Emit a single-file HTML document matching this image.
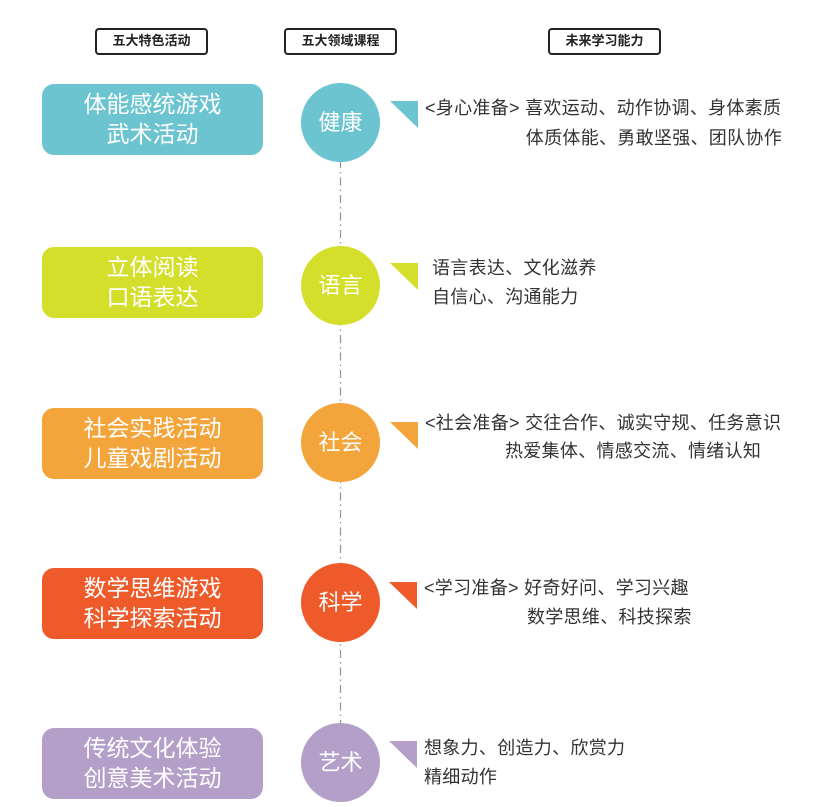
<!DOCTYPE html>
<html><head><meta charset="utf-8"><style>
*{margin:0;padding:0;box-sizing:border-box}
body{width:815px;height:807px;background:#fff;position:relative;overflow:hidden;font-family:"Liberation Sans","Noto Sans CJK SC",sans-serif}
.h{position:absolute;top:28px;height:27px;width:113px;border:2.5px solid #222;border-radius:4px;font-size:13px;font-weight:bold;color:#222;text-align:center;line-height:22px}
.b{position:absolute;left:42px;width:221px;height:71px;border-radius:12px;color:#fff;font-size:23px;text-align:center;line-height:30px;padding-top:5px}
.c{position:absolute;left:301px;width:79px;height:79px;border-radius:50%;color:#fff;font-size:22px;text-align:center;line-height:79px}
.t{position:absolute;width:0;height:0;border-top:27px solid;border-left:28px solid transparent}
.x{position:absolute;font-size:18px;letter-spacing:0.3px;color:#333;white-space:nowrap;line-height:20px}
</style></head><body>
<div class="h" style="left:95px">五大特色活动</div>
<div class="h" style="left:284px">五大领域课程</div>
<div class="h" style="left:548px">未来学习能力</div>
<svg style="position:absolute;left:0;top:0" width="815" height="807"><line x1="340.5" y1="160" x2="340.5" y2="730" stroke="#999" stroke-width="1.3" stroke-dasharray="8,4,1.5,4"/></svg>

<div class="b" style="top:84px;background:#6cc4d0">体能感统游戏<br>武术活动</div>
<div class="c" style="top:83px;background:#6cc4d0">健康</div>
<div class="t" style="left:390px;top:101px;border-top-color:#6cc4d0"></div>
<div class="x" style="left:425px;top:98px">&lt;身心准备&gt; 喜欢运动、动作协调、身体素质</div>
<div class="x" style="right:33px;top:128px">体质体能、勇敢坚强、团队协作</div>

<div class="b" style="top:247px;background:#d4df2c">立体阅读<br>口语表达</div>
<div class="c" style="top:246px;background:#d4df2c">语言</div>
<div class="t" style="left:390px;top:263px;border-top-color:#d4df2c"></div>
<div class="x" style="left:432px;top:258px">语言表达、文化滋养</div>
<div class="x" style="left:432px;top:287px">自信心、沟通能力</div>

<div class="b" style="top:408px;background:#f3a43a">社会实践活动<br>儿童戏剧活动</div>
<div class="c" style="top:403px;background:#f3a43a">社会</div>
<div class="t" style="left:390px;top:422px;border-top-color:#f3a43a"></div>
<div class="x" style="left:425px;top:413px">&lt;社会准备&gt; 交往合作、诚实守规、任务意识</div>
<div class="x" style="left:505px;top:441px">热爱集体、情感交流、情绪认知</div>

<div class="b" style="top:568px;background:#ee5a2a">数学思维游戏<br>科学探索活动</div>
<div class="c" style="top:563px;background:#ee5a2a">科学</div>
<div class="t" style="left:389px;top:582px;border-top-color:#ee5a2a"></div>
<div class="x" style="left:424px;top:578px">&lt;学习准备&gt; 好奇好问、学习兴趣</div>
<div class="x" style="left:527px;top:607px">数学思维、科技探索</div>

<div class="b" style="top:728px;background:#b49fc9">传统文化体验<br>创意美术活动</div>
<div class="c" style="top:723px;background:#b49fc9">艺术</div>
<div class="t" style="left:389px;top:741px;border-top-color:#b49fc9"></div>
<div class="x" style="left:424px;top:738px">想象力、创造力、欣赏力</div>
<div class="x" style="left:424px;top:767px">精细动作</div>
</body></html>
